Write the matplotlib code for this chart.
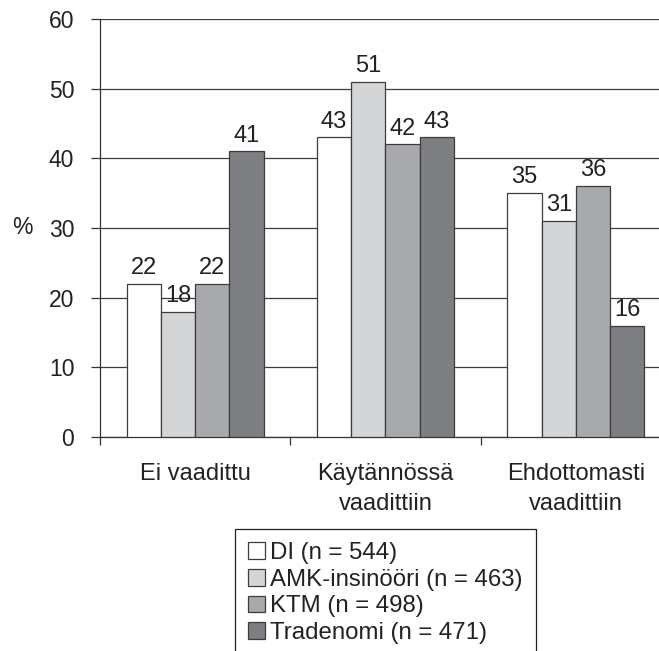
import matplotlib
matplotlib.use("Agg")
import matplotlib.pyplot as plt
import numpy as np

plt.rcParams['font.family'] = ['Liberation Sans', 'DejaVu Sans']

categories = ["Ei vaadittu", "Käytännössä\nvaadittiin", "Ehdottomasti\nvaadittiin"]
series_names = ["DI (n = 544)", "AMK-insinööri (n = 463)", "KTM (n = 498)", "Tradenomi (n = 471)"]
di = [22, 43, 35]
amk = [18, 51, 31]
ktm = [22, 42, 36]
tradenomi = [41, 43, 16]
colors = ["#ffffff", "#d4d5d7", "#a8a9ac", "#7e7f83"]
yticks = [0, 10, 20, 30, 40, 50, 60]

W, H = 659, 651
fig = plt.figure(figsize=(W / 100, H / 100), dpi=100)
ax = fig.add_axes([100 / W, (H - 437) / H, 571 / W, 418 / H])

values = [di, amk, ktm, tradenomi]
x = np.arange(len(categories))
bw = 0.18
for i, (vals, name, col) in enumerate(zip(values, series_names, colors)):
    pos = x - 1.5 * bw + i * bw
    bars = ax.bar(pos, vals, width=bw, color=col, edgecolor="#3c3c3c",
                  linewidth=0.9, label=name, zorder=3)
    for b, v in zip(bars, vals):
        ax.annotate(f"{v}", (b.get_x() + b.get_width() / 2, v),
                    xytext=(0, 3.5), textcoords="offset points",
                    ha="center", va="bottom", fontsize=17, color="#222222",
                    zorder=4)

ax.set_xlim(-0.5, len(categories) - 0.5)
ax.set_ylim(0, 60)
ax.set_yticks(yticks)
ax.tick_params(axis="y", direction="out", length=6.5, width=0.9,
               color="#333333", labelsize=16.5, pad=12, labelcolor="#222222")
ax.yaxis.grid(True, color="#3c3c3c", linewidth=0.9, zorder=0)
ax.set_axisbelow(True)

ax.set_xticks(x)
ax.set_xticklabels(categories, fontsize=17, color="#222222", linespacing=1.42)
ax.set_xticks(np.arange(len(categories) + 1) - 0.5, minor=True)
ax.tick_params(axis="x", which="major", length=0, pad=19)
ax.tick_params(axis="x", which="minor", direction="out", length=6,
               width=0.9, color="#333333")

for s in ["top", "right"]:
    ax.spines[s].set_visible(False)
for s in ["left", "bottom"]:
    ax.spines[s].set_color("#333333")
    ax.spines[s].set_linewidth(0.9)

ax.set_ylabel("%", rotation=0, fontsize=16.5, color="#222222", va="center")
ax.yaxis.set_label_coords(-78 / 571, 0.5)

leg = fig.legend(loc="upper left", bbox_to_anchor=(235 / W, 1 - 529 / H),
                 fontsize=17.3, frameon=True, fancybox=False, framealpha=1,
                 edgecolor="#222222", handlelength=0.7, handleheight=0.7,
                 handletextpad=0.2, labelspacing=0.19, borderpad=0.55,
                 borderaxespad=0)
leg.get_frame().set_linewidth(0.9)
for t in leg.get_texts():
    t.set_color("#222222")

fig.savefig("out.png", dpi=100)
